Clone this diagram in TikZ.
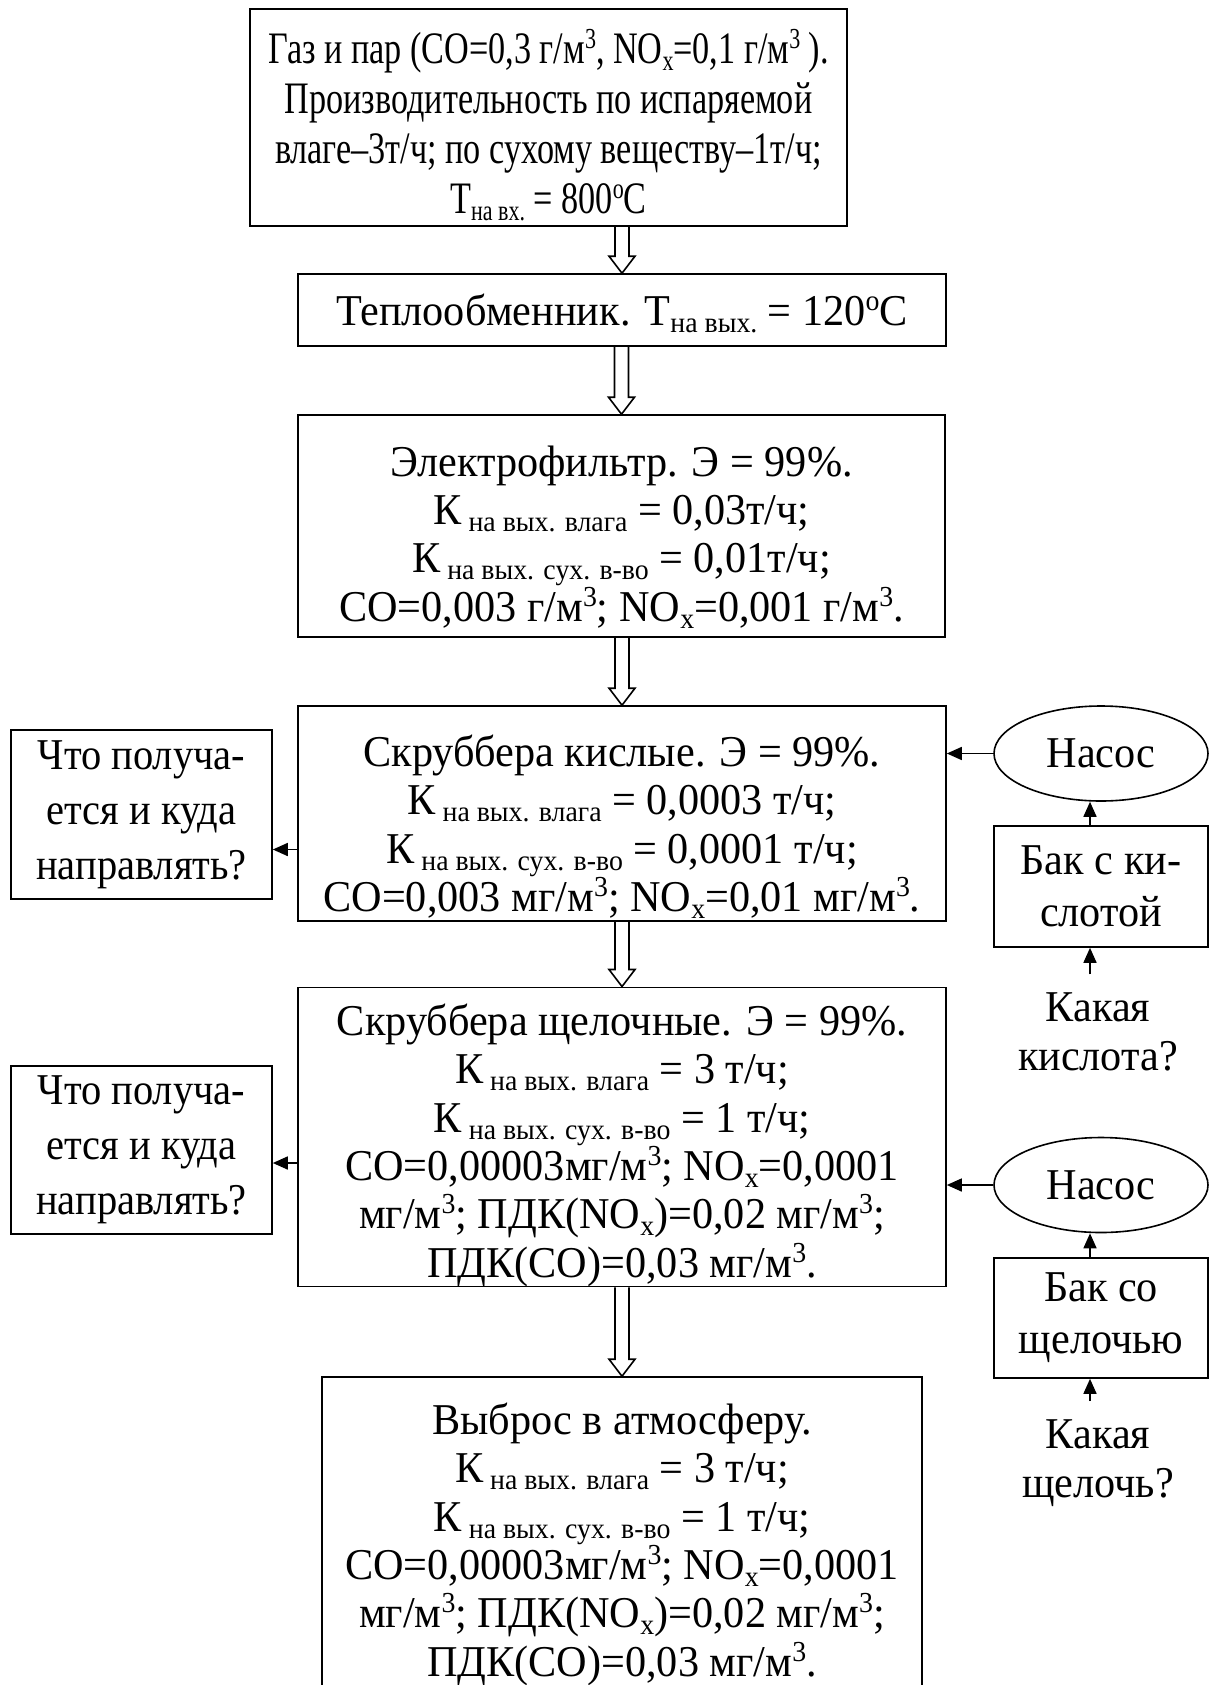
\documentclass[tikz,border=0pt]{standalone}
\usepackage{fontspec}
\setmainfont[FakeStretch=0.96]{Liberation Serif}
\newfontfamily\narrowfont[FakeStretch=0.76]{Liberation Serif}
\newfontfamily\sidefont[FakeStretch=0.92]{Liberation Serif}
\usetikzlibrary{arrows.meta,calc,shapes.geometric}

\newcommand{\lowtx}[1]{\raisebox{-3.5pt}[0pt][0pt]{\fontsize{14.5}{14.5}\selectfont #1}}
\newcommand{\uptx}[1]{\raisebox{7.5pt}[0pt][0pt]{\fontsize{14.5}{14.5}\selectfont #1}}
\newcommand{\topgap}[1]{\rule{0pt}{#1}}
% hollow flow arrow between two boxes
\newcommand{\flowarrow}[2]{%
  \draw let \p1=(#2.north), \p2=(#1.south) in
    (\x1-3.5pt,\y2) -- (\x1-3.5pt,\y1+8.5pt) -- (\x1-6.5pt,\y1+8.5pt)
    -- (\x1,\y1) -- (\x1+6.5pt,\y1+8.5pt) -- (\x1+3.5pt,\y1+8.5pt)
    -- (\x1+3.5pt,\y2);}

\begin{document}
\begin{tikzpicture}[x=0.5pt, y=-0.5pt, line width=0.8pt,
    box/.style={draw, align=center, inner sep=0pt},
    side/.style={box, font=\sidefont\fontsize{22}{27.5}\selectfont},
    pump/.style={draw, ellipse, inner sep=0pt,
      minimum width=107pt, minimum height=47.5pt},
    note/.style={align=center, inner sep=9pt},
    pipe/.style={-{Triangle[length=7.5pt,width=6.5pt]}},
    every node/.append style={font=\fontsize{22}{24.2}\selectfont}]
    \useasboundingbox (0,0) rectangle (1210,1685);

    % main line
    \node[box, minimum width=298.5pt, minimum height=108.5pt,
        font=\narrowfont\fontsize{22.5}{25}\selectfont] (gas) at (548.5,117.5)
        {\topgap{21pt}Газ и пар (CO=0,3 г/м\uptx{3}, NO\lowtx{x}=0,1 г/м\uptx{3} ).\\
         Производительность по испаряемой\\
         влаге–3т/ч; по сухому веществу–1т/ч;\\
         T\lowtx{на вх.} = 800\uptx{o}C};
    \node[box, minimum width=324pt, minimum height=36pt] (heat) at (622,310)
        {Теплообменник. T\lowtx{на вых.} = 120\uptx{o}C};
    \node[box, minimum width=323.5pt, minimum height=111pt] (filter) at (621.5,526)
        {\topgap{26pt}Электрофильтр. Э = 99\%.\\
         К\lowtx{ на вых. влага} = 0,03т/ч;\\
         К\lowtx{ на вых. сух. в-во} = 0,01т/ч;\\
         CO=0,003 г/м\uptx{3}; NO\lowtx{x}=0,001 г/м\uptx{3}.};
    \node[box, minimum width=324pt, minimum height=107.5pt] (acid) at (622,813.5)
        {\topgap{29pt}Скруббера кислые. Э = 99\%.\\
         К\lowtx{ на вых. влага} = 0,0003 т/ч;\\
         К\lowtx{ на вых. сух. в-во} = 0,0001 т/ч;\\
         CO=0,003 мг/м\uptx{3}; NO\lowtx{x}=0,01 мг/м\uptx{3}.};
    \node[box, minimum width=324pt, minimum height=147pt] (alkali) at (622,1137)
        {\topgap{24pt}Скруббера щелочные. Э = 99\%.\\
         К\lowtx{ на вых. влага} = 3 т/ч;\\
         К\lowtx{ на вых. сух. в-во} = 1 т/ч;\\
         CO=0,00003мг/м\uptx{3}; NO\lowtx{x}=0,0001\\
         мг/м\uptx{3}; ПДК(NO\lowtx{x})=0,02 мг/м\uptx{3};\\
         ПДК(CO)=0,03 мг/м\uptx{3}.};
    \node[box, minimum width=300pt, minimum height=162pt] (exhaust) at (622,1539)
        {\topgap{21pt}Выброс в атмосферу.\\
         К\lowtx{ на вых. влага} = 3 т/ч;\\
         К\lowtx{ на вых. сух. в-во} = 1 т/ч;\\
         CO=0,00003мг/м\uptx{3}; NO\lowtx{x}=0,0001\\
         мг/м\uptx{3}; ПДК(NO\lowtx{x})=0,02 мг/м\uptx{3};\\
         ПДК(CO)=0,03 мг/м\uptx{3}.};

    % side branches
    \node[side, minimum width=130.5pt, minimum height=84.5pt] (outA) at (141.5,814.5)
        {Что получа-\\ ется и куда\\ направлять?};
    \node[side, minimum width=130.5pt, minimum height=84pt] (outB) at (141.5,1150)
        {Что получа-\\ ется и куда\\ направлять?};
    \node[pump] (pumpA) at (1101,753.5) {Насос};
    \node[pump] (pumpB) at (1101,1185) {Насос};
    \node[box, minimum width=107pt, minimum height=60.5pt,
        font=\fontsize{22}{26}\selectfont] (tankA) at (1101,886.5)
        {Бак с ки-\\ слотой};
    \node[box, minimum width=107pt, minimum height=60pt,
        font=\fontsize{22}{26}\selectfont] (tankB) at (1101,1318)
        {Бак со\\ щелочью};
    \node[note] (askA) at (1098,1032) {Какая\\ кислота?};
    \node[note] (askB) at (1098,1463) {Какая\\ щелочь?};

    \flowarrow{gas}{heat}
    \flowarrow{heat}{filter}
    \flowarrow{filter}{acid}
    \flowarrow{acid}{alkali}
    \flowarrow{alkali}{exhaust}

    \draw[pipe] (pumpA.west) -- (pumpA.west -| acid.east);
    \draw[pipe] ([yshift=-18pt]acid.west) -- ([yshift=-18pt]acid.west -| outA.east);
    \draw[pipe] ([xshift=-5.5pt]tankA.north) -- ([xshift=-5.5pt]pumpA.south);
    \draw[pipe] ([xshift=-5.5pt]askA.north -| tankA.south) -- ([xshift=-5.5pt]tankA.south);
    \draw[pipe] (pumpB.west) -- (pumpB.west -| alkali.east);
    \draw[pipe] ([yshift=-13pt]alkali.west) -- ([yshift=-13pt]alkali.west -| outB.east);
    \draw[pipe] ([xshift=-5.5pt]tankB.north) -- ([xshift=-5.5pt]pumpB.south);
    \draw[pipe] ([xshift=-5.5pt]askB.north -| tankB.south) -- ([xshift=-5.5pt]tankB.south);
\end{tikzpicture}
\end{document}
